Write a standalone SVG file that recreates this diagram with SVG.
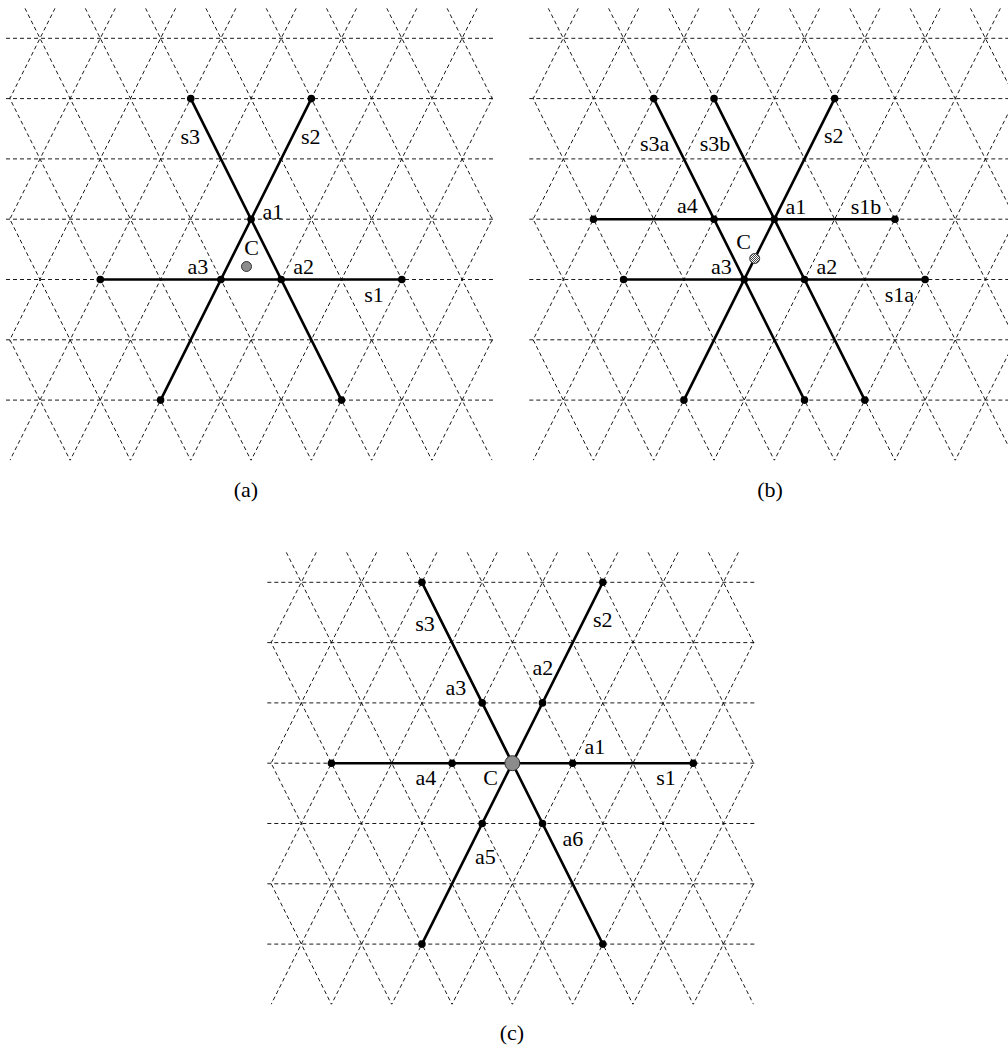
<svg xmlns="http://www.w3.org/2000/svg" xmlns:xlink="http://www.w3.org/1999/xlink" width="1008" height="1053" viewBox="0 0 1008 1053">
<style>
.grid{stroke:#000;stroke-width:0.9;stroke-dasharray:4 3;fill:none}
.seg{stroke:#000;stroke-width:2.6;fill:none;stroke-linecap:round}
.dot{fill:#000}
text{font-family:'Liberation Serif','DejaVu Serif','Times New Roman',serif;font-size:22px;fill:#000;text-anchor:middle}
.cgrey{fill:#8c8c8c;stroke:#333;stroke-width:1}
</style>
<defs>
<clipPath id="clipS"><rect x="9.6" y="8.15" width="482.9" height="452.3"/></clipPath>
<pattern id="checker" width="2" height="2" patternUnits="userSpaceOnUse">
<rect width="2" height="2" fill="#fff"/>
<rect width="1" height="1" fill="#444"/>
<rect x="1" y="1" width="1" height="1" fill="#444"/>
</pattern>
<g id="lattice">
<g class="grid">
<path d="M6 38.3H494M6 98.6H494M6 158.9H494M6 219.2H494M6 279.5H494M6 339.8H494M6 400.1H494"/>
</g>
<g class="grid" clip-path="url(#clipS)">
<path d="M-155.975 8.15L70.15 460.4M-95.675 8.15L130.45 460.4M-35.375 8.15L190.75 460.4M24.925 8.15L251.05 460.4M85.225 8.15L311.35 460.4M145.525 8.15L371.65 460.4M205.825 8.15L431.95 460.4M266.125 8.15L492.25 460.4M326.425 8.15L552.55 460.4M386.725 8.15L612.85 460.4M447.025 8.15L673.15 460.4"/>
<path d="M55.075 8.15L-171.05 460.4M115.375 8.15L-110.75 460.4M175.675 8.15L-50.45 460.4M235.975 8.15L9.85 460.4M296.275 8.15L70.15 460.4M356.575 8.15L130.45 460.4M416.875 8.15L190.75 460.4M477.175 8.15L251.05 460.4M537.475 8.15L311.35 460.4M597.775 8.15L371.65 460.4M658.075 8.15L431.95 460.4"/>
</g>
</g>
</defs>

<g id="grids">
<use xlink:href="#lattice" href="#lattice"/>
<use xlink:href="#lattice" href="#lattice" x="523.3"/>
<use xlink:href="#lattice" href="#lattice" x="261.3" y="544"/>
</g>

<g id="connectors">
<line id="a_s1" class="seg" x1="100.3" y1="279.5" x2="401.8" y2="279.5"/>
<line id="a_s2" class="seg" x1="311.35" y1="98.6" x2="160.6" y2="400.1"/>
<line id="a_s3" class="seg" x1="190.75" y1="98.6" x2="341.5" y2="400.1"/>
<line id="b_s1b" class="seg" x1="593.45" y1="219.2" x2="894.95" y2="219.2"/>
<line id="b_s1a" class="seg" x1="623.6" y1="279.5" x2="925.1" y2="279.5"/>
<line id="b_s3a" class="seg" x1="653.75" y1="98.6" x2="804.5" y2="400.1"/>
<line id="b_s3b" class="seg" x1="714.05" y1="98.6" x2="864.8" y2="400.1"/>
<line id="b_s2" class="seg" x1="834.65" y1="98.6" x2="683.9" y2="400.1"/>
<line id="c_s1" class="seg" x1="331.45" y1="763.2" x2="693.25" y2="763.2"/>
<line id="c_s2" class="seg" x1="602.8" y1="582.3" x2="421.9" y2="944.1"/>
<line id="c_s3" class="seg" x1="421.9" y1="582.3" x2="602.8" y2="944.1"/>
</g>

<g id="segment-labels" font-family="Liberation Serif, DejaVu Serif, serif">
<text x="190.3" y="144">s3</text>
<text x="310.8" y="143.5">s2</text>
<text x="374" y="301.7">s1</text>
<text x="654.7" y="150.7">s3a</text>
<text x="715" y="150.7">s3b</text>
<text x="833.8" y="143.3">s2</text>
<text x="866" y="214.3">s1b</text>
<text x="899.3" y="301.7">s1a</text>
<text x="425" y="630.7">s3</text>
<text x="602.7" y="626.7">s2</text>
<text x="666" y="785">s1</text>
</g>

<g id="a_e1"><circle class="dot" cx="100.3" cy="279.5" r="3.8"/></g>
<g id="a_e2"><circle class="dot" cx="401.8" cy="279.5" r="3.8"/></g>
<g id="a_e3"><circle class="dot" cx="311.35" cy="98.6" r="3.8"/></g>
<g id="a_e4"><circle class="dot" cx="160.6" cy="400.1" r="3.8"/></g>
<g id="a_e5"><circle class="dot" cx="190.75" cy="98.6" r="3.8"/></g>
<g id="a_e6"><circle class="dot" cx="341.5" cy="400.1" r="3.8"/></g>
<g id="a_a1"><circle class="dot" cx="251.05" cy="219.2" r="3.8"/><text x="273" y="219">a1</text></g>
<g id="a_a2"><circle class="dot" cx="281.2" cy="279.5" r="3.8"/><text x="303.7" y="274.3">a2</text></g>
<g id="a_a3"><circle class="dot" cx="220.9" cy="279.5" r="3.8"/><text x="198" y="274.3">a3</text></g>
<g id="a_C"><circle class="cgrey" cx="246.5" cy="266.5" r="5"/><text x="251.5" y="255">C</text></g>

<g id="b_e1"><circle class="dot" cx="593.45" cy="219.2" r="3.8"/></g>
<g id="b_e2"><circle class="dot" cx="894.95" cy="219.2" r="3.8"/></g>
<g id="b_e3"><circle class="dot" cx="623.6" cy="279.5" r="3.8"/></g>
<g id="b_e4"><circle class="dot" cx="925.1" cy="279.5" r="3.8"/></g>
<g id="b_e5"><circle class="dot" cx="653.75" cy="98.6" r="3.8"/></g>
<g id="b_e6"><circle class="dot" cx="714.05" cy="98.6" r="3.8"/></g>
<g id="b_e7"><circle class="dot" cx="834.65" cy="98.6" r="3.8"/></g>
<g id="b_e8"><circle class="dot" cx="683.9" cy="400.1" r="3.8"/></g>
<g id="b_e9"><circle class="dot" cx="804.5" cy="400.1" r="3.8"/></g>
<g id="b_e10"><circle class="dot" cx="864.8" cy="400.1" r="3.8"/></g>
<g id="b_a1"><circle class="dot" cx="774.35" cy="219.2" r="3.8"/><text x="796" y="214.3">a1</text></g>
<g id="b_a2"><circle class="dot" cx="804.5" cy="279.5" r="3.8"/><text x="827" y="274.3">a2</text></g>
<g id="b_a3"><circle class="dot" cx="744.2" cy="279.5" r="3.8"/><text x="721.3" y="274.3">a3</text></g>
<g id="b_a4"><circle class="dot" cx="714.05" cy="219.2" r="3.8"/><text x="687.5" y="213.3">a4</text></g>
<g id="b_C"><circle cx="754.7" cy="258.5" r="5" fill="url(#checker)" stroke="#333" stroke-width="1"/><text x="743.7" y="248.5">C</text></g>

<g id="c_e1"><circle class="dot" cx="331.45" cy="763.2" r="3.8"/></g>
<g id="c_e2"><circle class="dot" cx="693.25" cy="763.2" r="3.8"/></g>
<g id="c_e3"><circle class="dot" cx="602.8" cy="582.3" r="3.8"/></g>
<g id="c_e4"><circle class="dot" cx="421.9" cy="944.1" r="3.8"/></g>
<g id="c_e5"><circle class="dot" cx="421.9" cy="582.3" r="3.8"/></g>
<g id="c_e6"><circle class="dot" cx="602.8" cy="944.1" r="3.8"/></g>
<g id="c_a1"><circle class="dot" cx="572.65" cy="763.2" r="3.8"/><text x="595" y="754.3">a1</text></g>
<g id="c_a2"><circle class="dot" cx="542.5" cy="702.9" r="3.8"/><text x="543" y="675">a2</text></g>
<g id="c_a3"><circle class="dot" cx="482.2" cy="702.9" r="3.8"/><text x="456" y="695">a3</text></g>
<g id="c_a4"><circle class="dot" cx="452.05" cy="763.2" r="3.8"/><text x="426" y="785">a4</text></g>
<g id="c_a5"><circle class="dot" cx="482.2" cy="823.5" r="3.8"/><text x="485.5" y="864">a5</text></g>
<g id="c_a6"><circle class="dot" cx="542.5" cy="823.5" r="3.8"/><text x="573" y="846">a6</text></g>
<g id="c_C"><circle class="cgrey" cx="512.35" cy="763.2" r="7.5"/><text x="490.5" y="785">C</text></g>

<g id="captions">
<text x="246" y="497">(a)</text>
<text x="770" y="497">(b)</text>
<text x="512" y="1040">(c)</text>
</g>
</svg>
